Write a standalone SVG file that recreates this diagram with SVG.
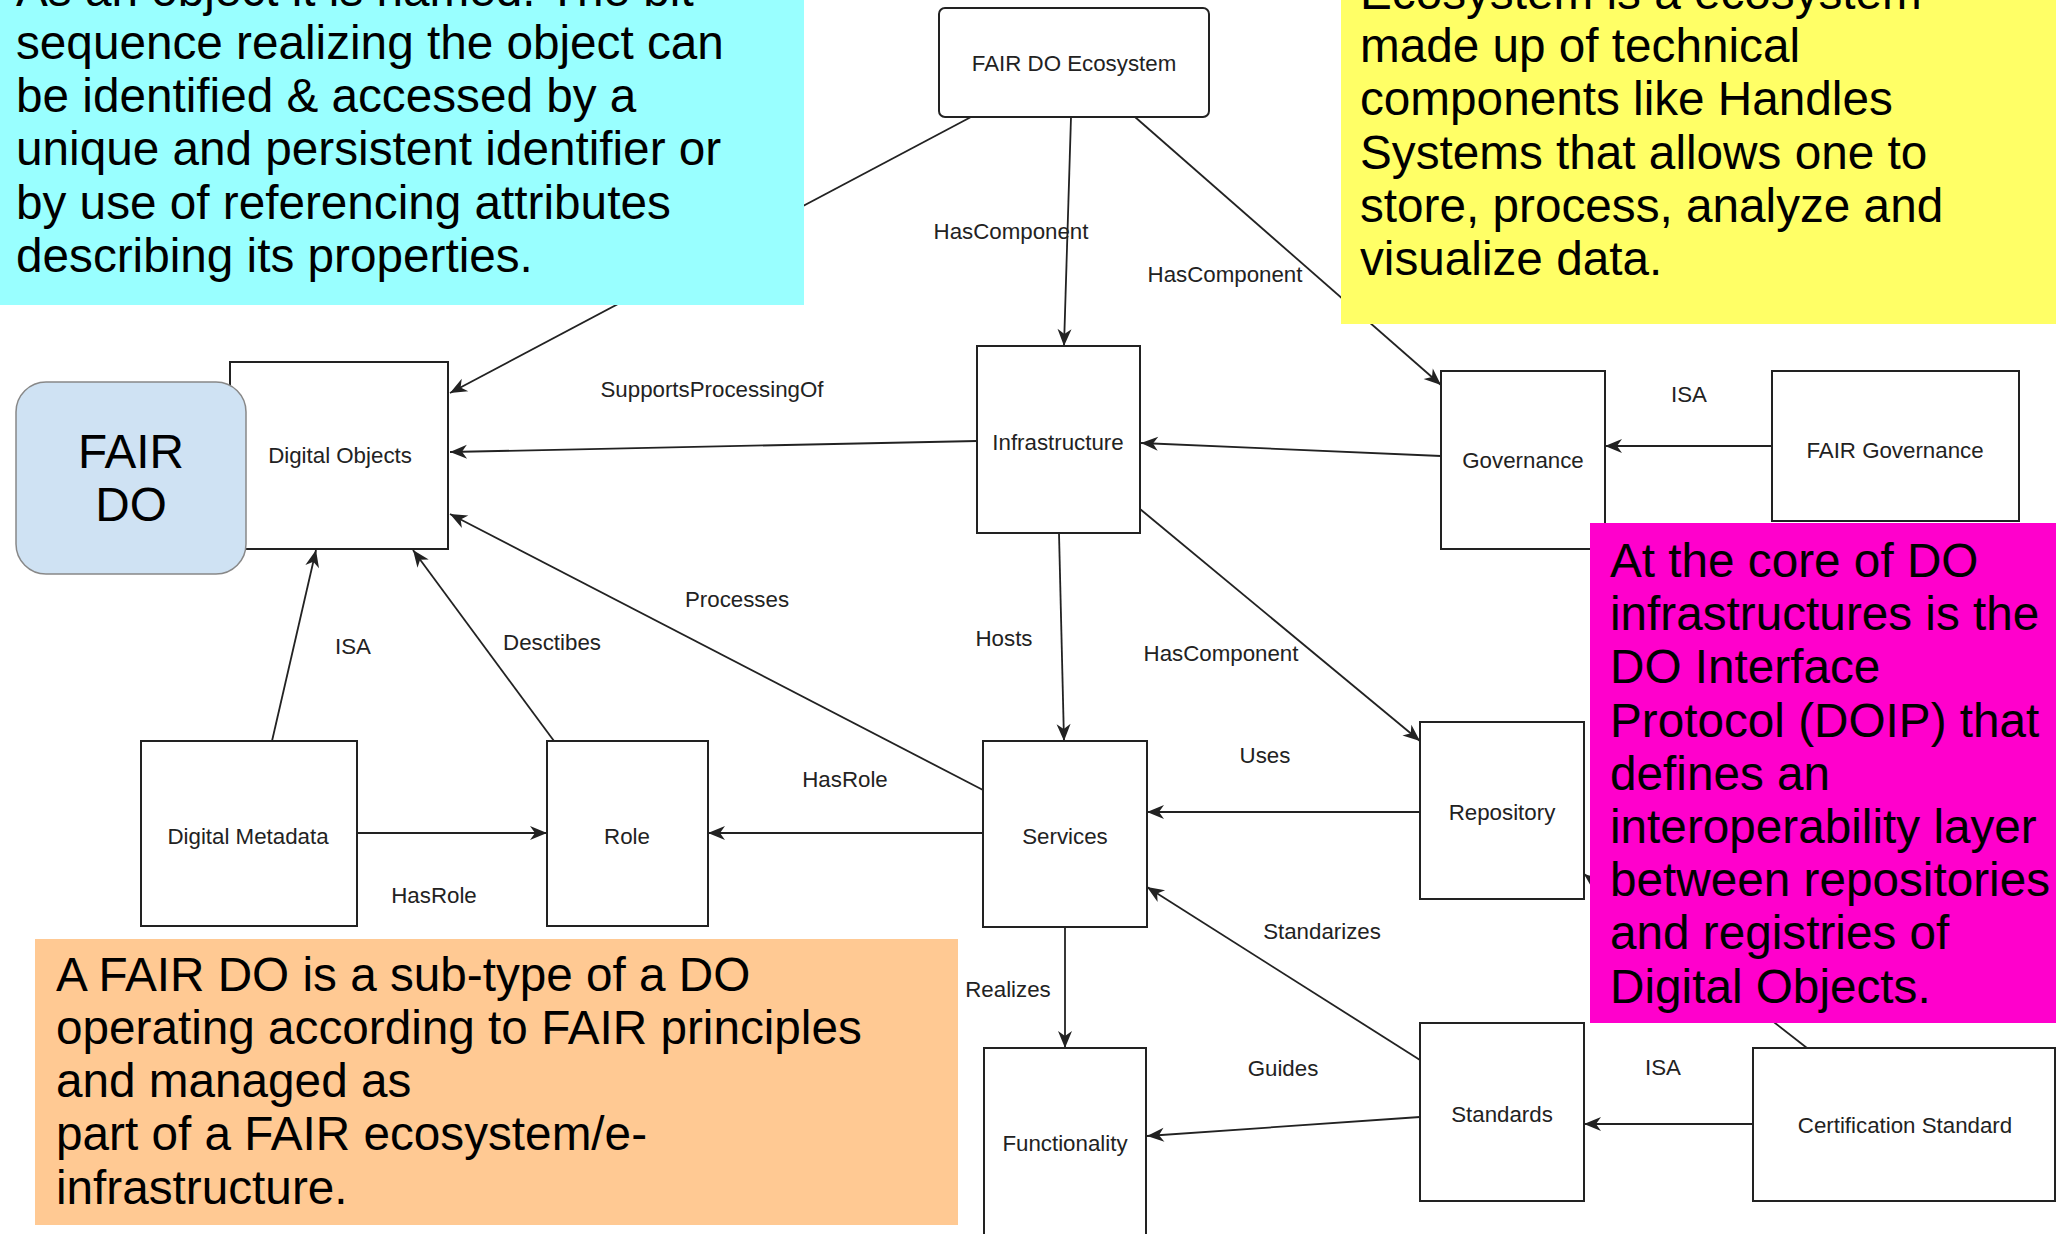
<svg xmlns="http://www.w3.org/2000/svg" width="2056" height="1234" viewBox="0 0 2056 1234">
<style>
.bg{fill:#ffffff}
.node{fill:#ffffff;stroke:#222;stroke-width:2}
.lbl{font-family:"Liberation Sans",Arial,sans-serif;font-size:22.3px;fill:#222;text-anchor:middle}
.edge{stroke:#222;stroke-width:1.8;fill:none;marker-end:url(#arr)}
.note{font-family:"Liberation Sans",Arial,sans-serif;font-size:47.7px;fill:#000}
</style>
<defs>
<marker id="arr" viewBox="-20 -10 22 20" refX="0" refY="0" markerWidth="22" markerHeight="20" markerUnits="userSpaceOnUse" orient="auto">
<path d="M0,0 L-17,-7 L-12,0 L-17,7 Z" fill="#222"/>
</marker>
</defs>
<rect class="bg" x="0" y="0" width="2056" height="1234"/>

<g id="connectors">
<line class="edge" x1="971" y1="117" x2="450" y2="393"/>
<line class="edge" x1="977" y1="441" x2="450" y2="452"/>
<line class="edge" x1="1071" y1="117" x2="1064" y2="346"/>
<line class="edge" x1="1135" y1="117" x2="1441" y2="385"/>
<line class="edge" x1="1441" y1="456" x2="1141" y2="443"/>
<line class="edge" x1="1772" y1="446" x2="1605" y2="446"/>
<line class="edge" x1="1140" y1="509" x2="1420" y2="741"/>
<line class="edge" x1="1059" y1="533" x2="1064" y2="741"/>
<line class="edge" x1="1420" y1="812" x2="1147" y2="812"/>
<line class="edge" x1="983" y1="790" x2="450" y2="514"/>
<line class="edge" x1="983" y1="833" x2="708" y2="833"/>
<line class="edge" x1="357" y1="833" x2="547" y2="833"/>
<line class="edge" x1="272" y1="741" x2="316" y2="550"/>
<line class="edge" x1="554" y1="741" x2="413" y2="550"/>
<line class="edge" x1="1065" y1="927" x2="1065" y2="1048"/>
<line class="edge" x1="1420" y1="1060" x2="1147" y2="887"/>
<line class="edge" x1="1420" y1="1117" x2="1147" y2="1136"/>
<line class="edge" x1="1753" y1="1124" x2="1584" y2="1124"/>
<line class="edge" x1="1807" y1="1048" x2="1584" y2="874"/>
<text class="lbl" x="1011" y="239">HasComponent</text>
<text class="lbl" x="1225" y="282">HasComponent</text>
<text class="lbl" x="712" y="397">SupportsProcessingOf</text>
<text class="lbl" x="1004" y="646">Hosts</text>
<text class="lbl" x="1221" y="661">HasComponent</text>
<text class="lbl" x="1265" y="763">Uses</text>
<text class="lbl" x="1689" y="402">ISA</text>
<text class="lbl" x="737" y="607">Processes</text>
<text class="lbl" x="353" y="654">ISA</text>
<text class="lbl" x="552" y="650">Desctibes</text>
<text class="lbl" x="845" y="787">HasRole</text>
<text class="lbl" x="434" y="903">HasRole</text>
<text class="lbl" x="1322" y="939">Standarizes</text>
<text class="lbl" x="1008" y="997">Realizes</text>
<text class="lbl" x="1283" y="1076">Guides</text>
<text class="lbl" x="1663" y="1075">ISA</text>
</g>

<g id="node-ecosystem"><rect class="node" x="939" y="8" width="270" height="109" rx="6"/><text class="lbl" x="1074" y="71">FAIR DO Ecosystem</text></g>
<g id="node-digital-objects"><rect class="node" x="230" y="362" width="218" height="187"/><text class="lbl" x="340" y="463">Digital Objects</text></g>
<g id="node-infrastructure"><rect class="node" x="977" y="346" width="163" height="187"/><text class="lbl" x="1058" y="450">Infrastructure</text></g>
<g id="node-governance"><rect class="node" x="1441" y="371" width="164" height="178"/><text class="lbl" x="1523" y="468">Governance</text></g>
<g id="node-fair-governance"><rect class="node" x="1772" y="371" width="247" height="150"/><text class="lbl" x="1895" y="458">FAIR Governance</text></g>
<g id="node-repository"><rect class="node" x="1420" y="722" width="164" height="177"/><text class="lbl" x="1502" y="820">Repository</text></g>
<g id="node-services"><rect class="node" x="983" y="741" width="164" height="186"/><text class="lbl" x="1065" y="844">Services</text></g>
<g id="node-role"><rect class="node" x="547" y="741" width="161" height="185"/><text class="lbl" x="627" y="844">Role</text></g>
<g id="node-digital-metadata"><rect class="node" x="141" y="741" width="216" height="185"/><text class="lbl" x="248" y="844">Digital Metadata</text></g>
<g id="node-functionality"><rect class="node" x="984" y="1048" width="162" height="200"/><text class="lbl" x="1065" y="1151">Functionality</text></g>
<g id="node-standards"><rect class="node" x="1420" y="1023" width="164" height="178"/><text class="lbl" x="1502" y="1122">Standards</text></g>
<g id="node-certification"><rect class="node" x="1753" y="1048" width="302" height="153"/><text class="lbl" x="1905" y="1133">Certification Standard</text></g>

<g id="node-fair-do"><rect x="16" y="382" width="230" height="192" rx="30" fill="#cfe2f3" stroke="#888" stroke-width="1.5"/><text class="note" x="131" y="468" text-anchor="middle">FAIR</text><text class="note" x="131" y="521" text-anchor="middle">DO</text></g>

<g id="note-cyan"><rect x="0" y="-10" width="804" height="315" fill="#99ffff"/>
<text class="note" x="16" y="6">As an object it is named. The bit</text>
<text class="note" x="16" y="59">sequence realizing the object can</text>
<text class="note" x="16" y="112.2">be identified &amp; accessed by a</text>
<text class="note" x="16" y="165.4">unique and persistent identifier or</text>
<text class="note" x="16" y="218.6">by use of referencing attributes</text>
<text class="note" x="16" y="271.8">describing its properties.</text>
</g>

<g id="note-yellow"><rect x="1341" y="-10" width="715" height="334" fill="#ffff66"/>
<text class="note" x="1360" y="9">Ecosystem is a ecosystem</text>
<text class="note" x="1360" y="62">made up of technical</text>
<text class="note" x="1360" y="115.3">components like Handles</text>
<text class="note" x="1360" y="168.5">Systems that allows one to</text>
<text class="note" x="1360" y="221.8">store, process, analyze and</text>
<text class="note" x="1360" y="275">visualize data.</text>
</g>

<g id="note-orange"><rect x="35" y="939" width="923" height="286" fill="#ffc993"/>
<text class="note" x="56" y="991">A FAIR DO is a sub-type of a DO</text>
<text class="note" x="56" y="1044">operating according to FAIR principles</text>
<text class="note" x="56" y="1097">and managed as</text>
<text class="note" x="56" y="1150">part of a FAIR ecosystem/e-</text>
<text class="note" x="56" y="1204">infrastructure.</text>
</g>

<g id="note-magenta"><rect x="1590" y="523" width="466" height="500" fill="#ff00cc"/>
<text class="note" x="1610" y="577">At the core of DO</text>
<text class="note" x="1610" y="630.2">infrastructures is the</text>
<text class="note" x="1610" y="683.4">DO Interface</text>
<text class="note" x="1610" y="736.6">Protocol (DOIP) that</text>
<text class="note" x="1610" y="789.8">defines an</text>
<text class="note" x="1610" y="843">interoperability layer</text>
<text class="note" x="1610" y="896.2">between repositories</text>
<text class="note" x="1610" y="949.4">and registries of</text>
<text class="note" x="1610" y="1002.6">Digital Objects.</text>
</g>
</svg>
